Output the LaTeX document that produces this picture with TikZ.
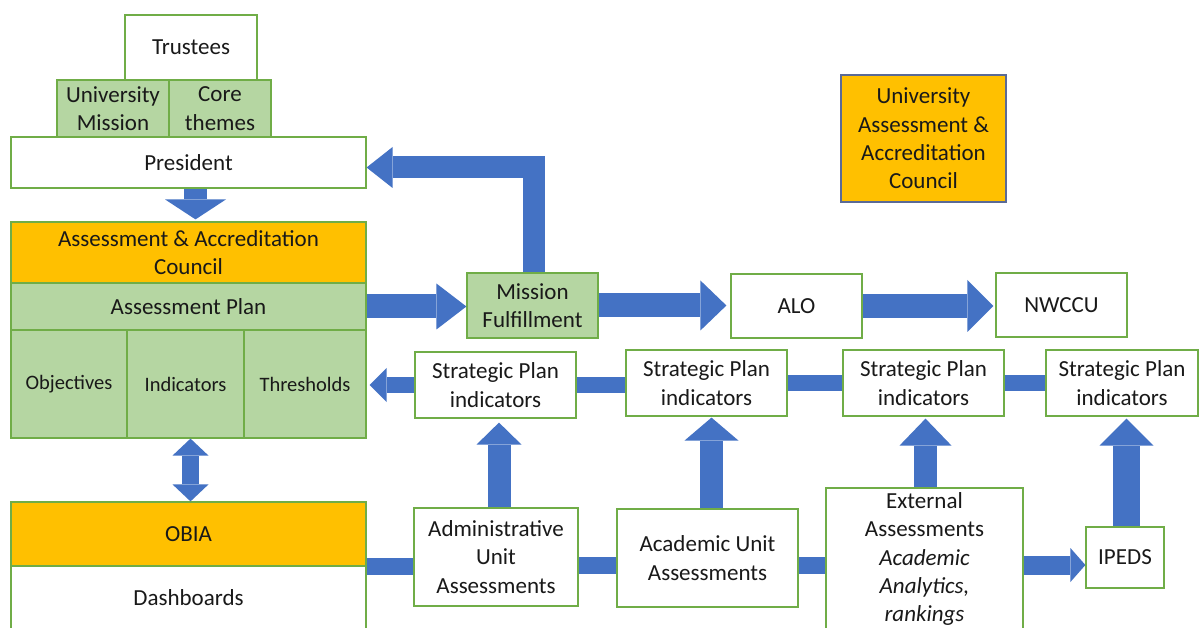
\documentclass[tikz,border=0pt]{standalone}
\usepackage{fontspec}
\setmainfont{Carlito}
\usetikzlibrary{arrows.meta,calc}
\definecolor{gfill}{HTML}{B5D6A2}
\definecolor{gline}{HTML}{70AD47}
\definecolor{ora}{HTML}{FFC000}
\definecolor{blu}{HTML}{4472C4}
\definecolor{slate}{HTML}{5A6A96}
\begin{document}
\begin{tikzpicture}[x=1pt,y=-1pt,
  box/.style={draw=gline,line width=1.2pt,fill=white,inner sep=0pt,align=center,
    font=\fontsize{23}{28.3}\selectfont,text=black!90},
  gbox/.style={box,fill=gfill},
  obox/.style={box,fill=ora},
  smalltxt/.style={font=\fontsize{20.5}{25}\selectfont},
  bigarrow/.style n args={3}{draw=blu,line width=#1,-{Triangle[length=#2,width=#3,line width=0pt]}},
  dblarrow/.style n args={3}{draw=blu,line width=#1,{Triangle[length=#2,width=#3,line width=0pt]}-{Triangle[length=#2,width=#3,line width=0pt]}},
  bar/.style={draw=blu,line width=#1}
]
\fill[white] (0,0) rectangle (1200,628);
\useasboundingbox (0,0) rectangle (1200,628);

% left column
\node[box,minimum width=132pt,minimum height=65pt] (trustees) at (191,47.5) {Trustees};
\node[gbox,minimum width=112pt,minimum height=57pt] (umission) at (113,108.5) {University\\Mission};
\node[gbox,minimum width=102pt,minimum height=57pt] (core) at (220,108.5) {Core\\themes};
\node[box,minimum width=355pt,minimum height=51pt] (president) at (188.5,162.5) {President};
\node[obox,minimum width=355pt,minimum height=61pt] (aac) at (188.5,252.5) {Assessment \& Accreditation\\Council};
\node[gbox,minimum width=355pt,minimum height=47pt] (plan) at (188.5,306.5) {Assessment Plan};
\node[gbox,smalltxt,minimum width=116pt,minimum height=108pt] (obj) at (69,384) {Objectives};
\node[gbox,smalltxt,minimum width=117pt,minimum height=108pt] (ind) at (185.5,384) {Indicators};
\node[gbox,smalltxt,minimum width=122pt,minimum height=108pt] (thr) at (305,384) {Thresholds};
\node[obox,minimum width=355pt,minimum height=64pt] (obia) at (188.5,534) {OBIA};
\node[box,minimum width=355pt,minimum height=64pt] (dash) at (188.5,598) {Dashboards};

% top row
\node[gbox,minimum width=131pt,minimum height=65pt] (mf) at (532.5,305.5) {Mission\\Fulfillment};
\node[box,minimum width=131pt,minimum height=64pt] (alo) at (796.5,306) {ALO};
\node[box,minimum width=131pt,minimum height=64pt] (nwccu) at (1061.5,305) {NWCCU};
\node[obox,draw=slate,minimum width=165pt,minimum height=127pt] (uaac) at (923.5,138.5) {University\\Assessment \&\\Accreditation\\Council};

% strategic plan row
\node[box,minimum width=161pt,minimum height=66pt] (sp1) at (495.5,385) {Strategic Plan\\indicators};
\node[box,minimum width=161pt,minimum height=66pt] (sp2) at (706.5,383) {Strategic Plan\\indicators};
\node[box,minimum width=161pt,minimum height=66pt] (sp3) at (923.5,383) {Strategic Plan\\indicators};
\node[box,minimum width=152pt,minimum height=66pt] (sp4) at (1122,383) {Strategic Plan\\indicators};

% bottom row
\node[box,minimum width=164pt,minimum height=98pt] (admin) at (496,557) {Administrative\\Unit\\Assessments};
\node[box,minimum width=181pt,minimum height=98pt] (acad) at (707.5,558) {Academic Unit\\Assessments};
\node[box,minimum width=197pt,minimum height=142pt] (ext) at (924.5,559) {External\\Assessments\\\textit{Academic}\\\textit{Analytics,}\\\textit{rankings}};
\node[box,minimum width=78pt,minimum height=61pt] (ipeds) at (1125,557.5) {IPEDS};

% arrows
\draw[bigarrow={23pt}{20pt}{61pt}] ([xshift=7pt]president.south) -- ([xshift=7pt,yshift=2pt]aac.north);
\draw[bigarrow={22pt}{26pt}{41pt}] ([xshift=1pt]mf.north) |- ([yshift=-5pt]president.east);
\draw[bigarrow={24pt}{30pt}{46pt}] (plan.east) -- (plan.east -| mf.west);
\draw[bigarrow={24pt}{26pt}{50pt}] (mf.east) -- ([xshift=-4pt]mf.east -| alo.west);
\draw[bigarrow={24pt}{26pt}{52pt}] (alo.east) -- ([xshift=-2pt]alo.east -| nwccu.west);
\draw[dblarrow={17pt}{17pt}{36pt}] ([xshift=2pt]obia.north) -- ([xshift=2pt]obia.north |- obj.south);

\draw[bigarrow={16pt}{17pt}{34pt}] (sp1.west) -- ([xshift=3pt]sp1.west -| thr.east);
\draw[bar=16pt] (sp1.east) -- (sp1.east -| sp2.west);
\draw[bar=16pt] (sp2.east) -- (sp3.west);
\draw[bar=16pt] (sp3.east) -- (sp4.west);

\draw[bigarrow={23pt}{22pt}{45pt}] ([xshift=3pt]admin.north) -- ([xshift=3pt,yshift=-4pt]admin.north |- sp1.south);
\draw[bigarrow={23pt}{23pt}{54pt}] ([xshift=4pt]acad.north) -- ([xshift=4pt,yshift=-1pt]acad.north |- sp2.south);
\draw[bigarrow={23pt}{27pt}{52pt}] ([xshift=1pt]ext.north) -- ([xshift=1pt,yshift=-2pt]ext.north |- sp3.south);
\draw[bigarrow={27pt}{27pt}{54pt}] ([xshift=1.5pt]ipeds.north) -- ([xshift=1.5pt,yshift=-2pt]ipeds.north |- sp4.south);

\draw[bar=17pt] (obia.south east) -- (obia.south east -| admin.west);
\draw[bar=17pt] ([yshift=-8pt]admin.east) -- ([yshift=-8pt]admin.east -| acad.west);
\draw[bar=17pt] ([yshift=-7pt]acad.east) -- ([yshift=-7pt]acad.east -| ext.west);
\draw[bigarrow={19pt}{15pt}{34pt}] ([yshift=-6pt]ext.east) -- ([yshift=-6pt]ext.east -| ipeds.west);
\end{tikzpicture}
\end{document}
